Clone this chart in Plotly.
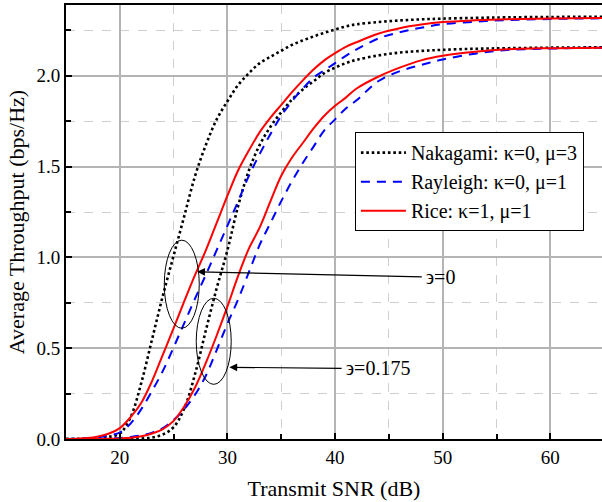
import plotly.graph_objects as go

snr = [15, 16, 17, 18, 19, 20, 21, 22, 23, 24, 25, 26, 27, 28, 29, 30, 31, 32, 33, 34, 35,
       36, 37, 38, 39, 40, 41, 42, 44, 46, 48, 50, 53, 56, 60, 65]

# epsilon = 0
nak_0 = [0.0, 0.0, 0.001, 0.005, 0.012, 0.03, 0.12, 0.31, 0.55, 0.79, 1.01, 1.23, 1.45, 1.62,
         1.76, 1.86, 1.95, 2.015, 2.07, 2.105, 2.138, 2.17, 2.195, 2.217, 2.237, 2.255, 2.272,
         2.284, 2.296, 2.305, 2.311, 2.315, 2.319, 2.322, 2.324, 2.325]
ray_0 = [0.0, 0.001, 0.004, 0.01, 0.02, 0.035, 0.085, 0.165, 0.265, 0.375, 0.505, 0.64, 0.775,
         0.905, 1.04, 1.175, 1.31, 1.45, 1.57, 1.68, 1.78, 1.86, 1.93, 1.99, 2.03, 2.07, 2.11,
         2.145, 2.205, 2.24, 2.265, 2.284, 2.298, 2.307, 2.313, 2.317]
rice_0 = [0.0, 0.002, 0.005, 0.014, 0.03, 0.06, 0.12, 0.2, 0.32, 0.465, 0.61, 0.76, 0.905, 1.04,
          1.19, 1.34, 1.48, 1.59, 1.69, 1.77, 1.84, 1.91, 1.975, 2.035, 2.085, 2.125, 2.16,
          2.185, 2.232, 2.262, 2.282, 2.296, 2.306, 2.312, 2.316, 2.318]

# epsilon = 0.175
nak_1 = [0.0, 0.0, 0.0, 0.0, 0.0, 0.0, 0.001, 0.003, 0.008, 0.025, 0.065, 0.17, 0.36, 0.6, 0.83,
         1.04, 1.285, 1.48, 1.62, 1.72, 1.8, 1.87, 1.925, 1.97, 2.015, 2.045, 2.07, 2.088,
         2.112, 2.128, 2.137, 2.143, 2.149, 2.152, 2.155, 2.157]
ray_1 = [0.0, 0.0, 0.0, 0.001, 0.003, 0.006, 0.011, 0.02, 0.035, 0.06, 0.105, 0.165, 0.245, 0.35,
         0.49, 0.635, 0.77, 0.92, 1.07, 1.19, 1.31, 1.42, 1.52, 1.61, 1.7, 1.76, 1.82, 1.865,
         1.97, 2.025, 2.06, 2.09, 2.122, 2.142, 2.15, 2.155]
rice_1 = [0.0, 0.0, 0.0, 0.0, 0.001, 0.003, 0.007, 0.015, 0.03, 0.055, 0.1, 0.18, 0.285, 0.42,
          0.57, 0.73, 0.9, 1.05, 1.165, 1.31, 1.45, 1.55, 1.63, 1.71, 1.78, 1.835, 1.88, 1.93,
          1.995, 2.045, 2.085, 2.11, 2.132, 2.146, 2.152, 2.155]

names = ["Nakagami: κ=0, μ=3", "Rayleigh: κ=0, μ=1", "Rice: κ=1, μ=1"]
labels_eps = ["϶=0", "϶=0.175"]

FONT = "Times New Roman, Liberation Serif, DejaVu Serif, serif"

styles = [
    dict(color="black", width=2.6, dash="2.6px,2.8px"),
    dict(color="#0000ff", width=2, dash="9px,7px"),
    dict(color="#ff0000", width=2, dash="solid"),
]

fig = go.Figure()
for i, (ys0, ys1) in enumerate([(nak_0, nak_1), (ray_0, ray_1), (rice_0, rice_1)]):
    fig.add_trace(go.Scatter(x=snr, y=ys0, mode="lines", line=styles[i], name=names[i],
                             legendgroup=names[i], line_shape="spline"))
    fig.add_trace(go.Scatter(x=snr, y=ys1, mode="lines", line=styles[i], name=names[i],
                             legendgroup=names[i], showlegend=False, line_shape="spline"))

# ellipses
fig.add_shape(type="circle", xref="x", yref="y", x0=24.13, x1=27.38, y0=0.61, y1=1.095,
              line=dict(color="black", width=1))
fig.add_shape(type="circle", xref="x", yref="y", x0=27.1, x1=30.35, y0=0.301, y1=0.775,
              line=dict(color="black", width=1))

# arrows
fig.add_annotation(x=27.19, y=0.921, ax=48.2, ay=0.893, xref="x", yref="y", axref="x", ayref="y",
                   text="", showarrow=True, arrowhead=2, arrowsize=1.3, arrowwidth=1.2,
                   arrowcolor="black")
fig.add_annotation(x=30.18, y=0.395, ax=40.75, ay=0.389, xref="x", yref="y", axref="x", ayref="y",
                   text="", showarrow=True, arrowhead=2, arrowsize=1.3, arrowwidth=1.2,
                   arrowcolor="black")
fig.add_annotation(x=48.3, y=0.893, xref="x", yref="y", text=labels_eps[0], showarrow=False,
                   xanchor="left", yanchor="middle", font=dict(family=FONT, size=20, color="black"))
fig.add_annotation(x=40.85, y=0.389, xref="x", yref="y", text=labels_eps[1], showarrow=False,
                   xanchor="left", yanchor="middle", font=dict(family=FONT, size=20, color="black"))

fig.update_layout(
    width=602, height=502,
    margin=dict(l=66, r=0, t=5, b=63, autoexpand=False),
    paper_bgcolor="white", plot_bgcolor="white",
    font=dict(family=FONT, size=19, color="black"),
    showlegend=True,
    legend=dict(x=0.539, y=0.707, xanchor="left", yanchor="top",
                bgcolor="white", bordercolor="black", borderwidth=1,
                font=dict(family=FONT, size=20), itemwidth=45, tracegroupgap=0),
)
fig.update_xaxes(
    automargin=False,
    range=[15, 64.8], tick0=0, dtick=10, ticks="inside", ticklen=6, tickwidth=1.5,
    tickcolor="black", showline=True, linecolor="black", linewidth=2, mirror=True,
    showgrid=True, gridcolor="#b4b4b4", gridwidth=1.5, zeroline=False,
    minor=dict(dtick=5, ticks="inside", ticklen=5, tickcolor="black", showgrid=True,
               gridcolor="#cfcfcf", griddash="dash", gridwidth=1),
    title=dict(text="Transmit SNR (dB)", font=dict(family=FONT, size=22), standoff=14),
    tickfont=dict(family=FONT, size=19),
)
fig.update_yaxes(
    automargin=False,
    range=[0, 2.39], tick0=0, dtick=0.5, tickformat=".1f", ticks="inside", ticklen=6,
    tickwidth=1.5, tickcolor="black", showline=True, linecolor="black", linewidth=2,
    mirror=False, showgrid=True, gridcolor="#b4b4b4", gridwidth=1.5, zeroline=False,
    minor=dict(dtick=0.25, ticks="inside", ticklen=5, tickcolor="black", showgrid=True,
               gridcolor="#cfcfcf", griddash="dash", gridwidth=1),
    title=dict(text="Average Throughput (bps/Hz)", font=dict(family=FONT, size=22), standoff=6),
    tickfont=dict(family=FONT, size=19),
)

fig.write_html("out.html", config={"displayModeBar": False},
               post_script="document.body.style.margin='0';document.body.style.overflow='hidden';")
